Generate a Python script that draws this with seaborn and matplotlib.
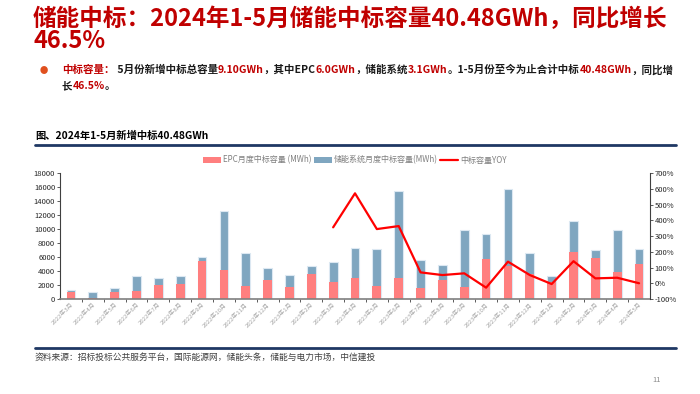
import matplotlib
matplotlib.use("Agg")
import matplotlib.pyplot as plt
import seaborn as sns
import pandas as pd
import numpy as np
from matplotlib.patches import Patch
from matplotlib.lines import Line2D
from matplotlib.ticker import FuncFormatter, MultipleLocator, FixedLocator

months = ["2022年3月", "2022年4月", "2022年5月", "2022年6月", "2022年7月", "2022年8月",
          "2022年9月", "2022年10月", "2022年11月", "2022年12月", "2023年1月", "2023年2月",
          "2023年3月", "2023年4月", "2023年5月", "2023年6月", "2023年7月", "2023年8月",
          "2023年9月", "2023年10月", "2023年11月", "2023年12月", "2024年1月", "2024年2月",
          "2024年3月", "2024年4月", "2024年5月"]
# EPC 月度中标容量 (MWh)
epc = [950, 190, 950, 1190, 1950, 2190, 5380, 4150, 1900, 2740, 1710, 3620, 2380,
       2980, 1880, 2980, 1520, 2670, 1760, 5730, 4740, 3600, 2400, 6720, 5850, 3880, 4980]
# 储能系统月度中标容量 (MWh)
storage = [320, 880, 690, 2160, 1120, 1070, 650, 8450, 4620, 1760, 1740, 1030, 2880,
           4330, 5260, 12470, 4020, 2200, 8120, 3600, 10920, 3000, 850, 4460, 1180, 6000, 2150]
# 中标容量YOY (%), 2023年3月起
yoy_months = months[12:]
yoy = [355, 571, 344, 363, 69, 52, 63, -28, 137, 52, -5, 140, 31, 35, 0]

sns.set_theme(style="white")
plt.rcParams['font.family'] = ['Noto Sans CJK SC', 'DejaVu Sans']

df = pd.DataFrame({"month": months, "epc": epc, "storage": storage})
df["total"] = df["epc"] + df["storage"]
pos = {m: i for i, m in enumerate(months)}
line_df = pd.DataFrame({"x": [pos[m] for m in yoy_months], "yoy": yoy})

fig = plt.figure(figsize=(7, 3.94), dpi=100)
W, H = 700, 394

def fx(px):
    return px / W

def fy(py):
    return 1 - py / H

RED = "#C00000"
EPC_C = "#FF7F7F"
STO_C = "#7FA6C0"

# --- title ---
fig.text(fx(33), fy(19), "储能中标：2024年1-5月储能中标容量40.48GWh，同比增长",
         color=RED, fontsize=17, fontweight="bold", va="center", ha="left")
fig.text(fx(33), fy(41), "46.5%", color=RED, fontsize=17, fontweight="bold",
         va="center", ha="left")

# --- bullet text with mixed colours ---
renderer = fig.canvas.get_renderer()

def seg_line(x0, y0, parts, size):
    x = fx(x0)
    for s, c in parts:
        t = fig.text(x, fy(y0), s, color=c, fontsize=size, fontweight="bold",
                     va="center", ha="left")
        bb = t.get_window_extent(renderer)
        x += bb.width / fig.bbox.width

fig.text(fx(44), fy(70), "●", color="#E0501E", fontsize=6, va="center", ha="center")
BLK = "#1A1A1A"
seg_line(62, 70, [("中标容量：", RED), (" 5月份新增中标总容量", BLK), ("9.10GWh", RED),
                  ("，其中EPC", BLK), ("6.0GWh", RED), ("，储能系统", BLK), ("3.1GWh", RED),
                  ("。1-5月份至今为止合计中标", BLK), ("40.48GWh", RED), ("，同比增", BLK)], 7.55)
seg_line(62, 86, [("长", BLK), ("46.5%", RED), ("。", BLK)], 7.55)

# --- section header ---
fig.text(fx(35), fy(136), "图、2024年1-5月新增中标40.48GWh", color="black",
         fontsize=7.4, fontweight="bold", va="center", ha="left")
fig.add_artist(Line2D([fx(35), fx(676)], [fy(145), fy(145)], color="#1F3864", lw=2))

# --- chart ---
ax = fig.add_axes([fx(60), fy(299), fx(650) - fx(60), (299 - 173) / H])
sns.barplot(data=df, x="month", y="total", color=STO_C, width=0.4, saturation=1,
            edgecolor="#DCE8F2", linewidth=0.8, ax=ax)
sns.barplot(data=df, x="month", y="epc", color=EPC_C, width=0.4, saturation=1,
            linewidth=0, ax=ax)
ax.set_xlim(-0.5, len(months) - 0.5)
ax.set_ylim(0, 18000)
ax.yaxis.set_major_locator(MultipleLocator(2000))
ax.set_xlabel("")
ax.set_ylabel("")
ax.tick_params(axis="y", labelsize=5.5, length=2, width=0.6, color="#404040",
               labelcolor="#262626", pad=1.5, left=True)
ax.tick_params(axis="x", which="major", length=0, labelsize=4.3, labelcolor="#A6A6A6", pad=2)
ax.xaxis.set_minor_locator(FixedLocator(np.arange(0.5, len(months) - 0.5, 1)))
ax.tick_params(axis="x", which="minor", length=2, width=0.6, color="#404040", bottom=True)
for lbl in ax.get_xticklabels():
    lbl.set_rotation(45)
    lbl.set_ha("right")
    lbl.set_rotation_mode("anchor")
for s in ["top", "right"]:
    ax.spines[s].set_visible(False)
ax.spines["left"].set_color("#404040")
ax.spines["left"].set_linewidth(0.8)
ax.spines["bottom"].set_color("#7F7F7F")
ax.spines["bottom"].set_linewidth(1.2)

ax2 = ax.twinx()
sns.lineplot(data=line_df, x="x", y="yoy", color="#FF0000", lw=1.6, ax=ax2)
ax2.set_ylim(-100, 700)
ax2.yaxis.set_major_locator(MultipleLocator(100))
ax2.yaxis.set_major_formatter(FuncFormatter(lambda v, p: f"{v:.0f}%"))
ax2.set_ylabel("")
ax2.set_xlabel("")
ax2.tick_params(axis="y", labelsize=5.5, length=2, width=0.6, color="#404040",
                labelcolor="#262626", pad=1.5, right=True)
for s in ["top", "left", "bottom"]:
    ax2.spines[s].set_visible(False)
ax2.spines["right"].set_color("#404040")
ax2.spines["right"].set_linewidth(0.8)
ax2.set_xlim(-0.5, len(months) - 0.5)

handles = [Patch(facecolor=EPC_C, edgecolor="none", label="EPC月度中标容量 (MWh)"),
           Patch(facecolor=STO_C, edgecolor="none", label="储能系统月度中标容量(MWh)"),
           Line2D([0], [0], color="#FF0000", lw=1.6, label="中标容量YOY")]
fig.legend(handles=handles, loc="center", bbox_to_anchor=(fx(355), fy(160)), ncol=3,
           frameon=False, fontsize=5.8, labelcolor="#7F7F7F", handlelength=2.2,
           handleheight=0.8, columnspacing=0.3, handletextpad=0.3, borderaxespad=0)

# --- footer ---
fig.add_artist(Line2D([fx(35), fx(676)], [fy(348), fy(348)], color="#1F3864", lw=2))
fig.text(fx(35), fy(357), "资料来源：招标投标公共服务平台，国际能源网，储能头条，储能与电力市场，中信建投",
         color="#404040", fontsize=6.3, style="italic", va="center", ha="left")
fig.text(fx(657), fy(380), "11", color="#8C8C8C", fontsize=5.5, va="center", ha="center")

fig.savefig("out.png", dpi=100)
